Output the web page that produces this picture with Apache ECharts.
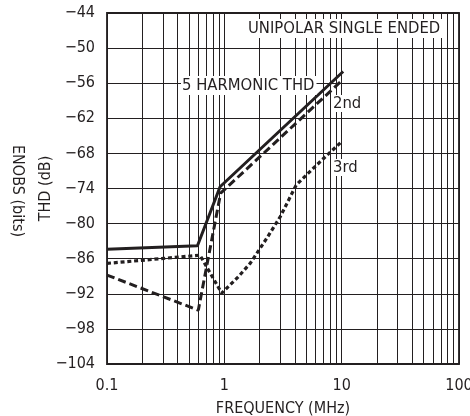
<!DOCTYPE html>
<html>
<head>
<meta charset="utf-8">
<script src="https://cdn.jsdelivr.net/npm/echarts@6/dist/echarts.min.js"></script>
<style>
  html, body { margin: 0; padding: 0; background: #fff; }
  #chart { width: 470px; height: 416px; }
</style>
</head>
<body>
<div id="chart"></div>
<script>
// ---- data ----
const thd5Freq = [0.1, 0.59, 0.92, 10.3];
const thd5Val  = [-84.4, -83.8, -73.7, -54.0];

const h2Freq = [0.1, 0.6, 0.93, 10.1];
const h2Val  = [-88.8, -94.8, -74.8, -55.5];

const h3Freq = [0.1, 0.62, 0.95, 1.3, 1.66, 2.3, 3.0, 4.1, 5.5, 7.5, 10.0];
const h3Val  = [-86.8, -85.4, -91.9, -89.2, -86.8, -82.5, -78.8, -73.4, -70.9, -68.3, -66.0];

const xTickLabels = ['0.1', '1', '10', '100'];
const minorGridFreqs = [
  0.2, 0.3, 0.4, 0.5, 0.6, 0.7, 0.8, 0.9,
  2, 3, 4, 5, 6, 7, 8, 9,
  20, 30, 40, 50, 60, 70, 80, 90
];
const yMin = -104, yMax = -44, yStep = 6;

const FONT = '"Liberation Sans Narrow", "DejaVu Sans Condensed", "Roboto", sans-serif';
const INK = '#231f20';

function pairs(xs, ys) { return xs.map((x, i) => [x, ys[i]]); }

const chart = echarts.init(document.getElementById('chart'), null, { renderer: 'canvas' });

const option = {
  animation: false,
  backgroundColor: '#fff',
  textStyle: { fontFamily: FONT, color: INK },
  grid: {
    left: 107, right: 11, top: 13, bottom: 52,
    containLabel: false, outerBoundsMode: 'none',
    show: true, borderColor: INK, borderWidth: 1.8, backgroundColor: 'transparent'
  },
  xAxis: {
    type: 'log', logBase: 10, min: 0.1, max: 100,
    axisLine: { show: false },
    axisTick: { show: false },
    splitLine: { show: true, lineStyle: { color: INK, width: 1 } },
    axisLabel: {
      fontFamily: FONT, fontSize: 16, color: INK, margin: 14,
      formatter: function (v) {
        const idx = Math.round(Math.log10(v)) + 1;
        return xTickLabels[idx] !== undefined ? xTickLabels[idx] : '';
      }
    },
    name: 'FREQUENCY (MHz)',
    nameLocation: 'middle', nameGap: 37, nameMoveOverlap: false,
    nameTextStyle: { fontFamily: FONT, fontSize: 16, color: INK }
  },
  yAxis: {
    type: 'value', min: yMin, max: yMax, interval: yStep,
    axisLine: { show: false },
    axisTick: { show: false },
    splitLine: { show: true, lineStyle: { color: INK, width: 1 } },
    axisLabel: {
      fontFamily: FONT, fontSize: 16, color: INK, margin: 12,
      formatter: function (v) { return v < 0 ? '\u2212' + Math.abs(v) : String(v); }
    },
    name: 'THD (dB)',
    nameLocation: 'middle', nameGap: 53, nameRotate: 90, nameMoveOverlap: false,
    nameTextStyle: { fontFamily: FONT, fontSize: 16, color: INK }
  },
  series: [
    {
      type: 'line', name: 'grid', data: [], silent: true,
      markLine: {
        silent: true, symbol: ['none', 'none'], animation: false,
        label: { show: false },
        lineStyle: { type: 'solid', color: INK, width: 1 },
        data: minorGridFreqs.map(f => ({ xAxis: f }))
      }
    },
    {
      type: 'line', name: '5 HARMONIC THD', data: pairs(thd5Freq, thd5Val),
      symbol: 'none', z: 5,
      lineStyle: { color: INK, width: 3, type: 'solid' }
    },
    {
      type: 'line', name: '2nd', data: pairs(h2Freq, h2Val),
      symbol: 'none', z: 5,
      lineStyle: { color: INK, width: 3, type: [8, 4] }
    },
    {
      type: 'line', name: '3rd', data: pairs(h3Freq, h3Val),
      symbol: 'none', z: 5,
      lineStyle: { color: INK, width: 3.2, type: [4, 2.8] }
    }
  ],
  graphic: [
    {
      type: 'text', left: 246, top: 19, z: 10,
      style: {
        text: 'UNIPOLAR SINGLE ENDED', font: '16.5px ' + FONT, fill: INK,
        backgroundColor: '#fff', padding: [1, 3, 1, 2]
      }
    },
    {
      type: 'text', left: 181, top: 76, z: 10,
      style: {
        text: '5 HARMONIC THD', font: '16.5px ' + FONT, fill: INK,
        backgroundColor: '#fff', padding: [1, 2, 1, 1]
      }
    },
    {
      type: 'text', left: 333, top: 95, z: 10,
      style: { text: '2nd', font: '16.5px ' + FONT, fill: INK, backgroundColor: '#fff' }
    },
    {
      type: 'text', left: 333, top: 159, z: 10,
      style: { text: '3rd', font: '16.5px ' + FONT, fill: INK, backgroundColor: '#fff' }
    },
    {
      type: 'text', x: 17, y: 191, rotation: -Math.PI / 2, z: 10,
      style: {
        text: 'ENOBS (bits)', font: '16px ' + FONT, fill: INK,
        align: 'center', verticalAlign: 'middle'
      }
    }
  ]
};

chart.setOption(option);
</script>
</body>
</html>
